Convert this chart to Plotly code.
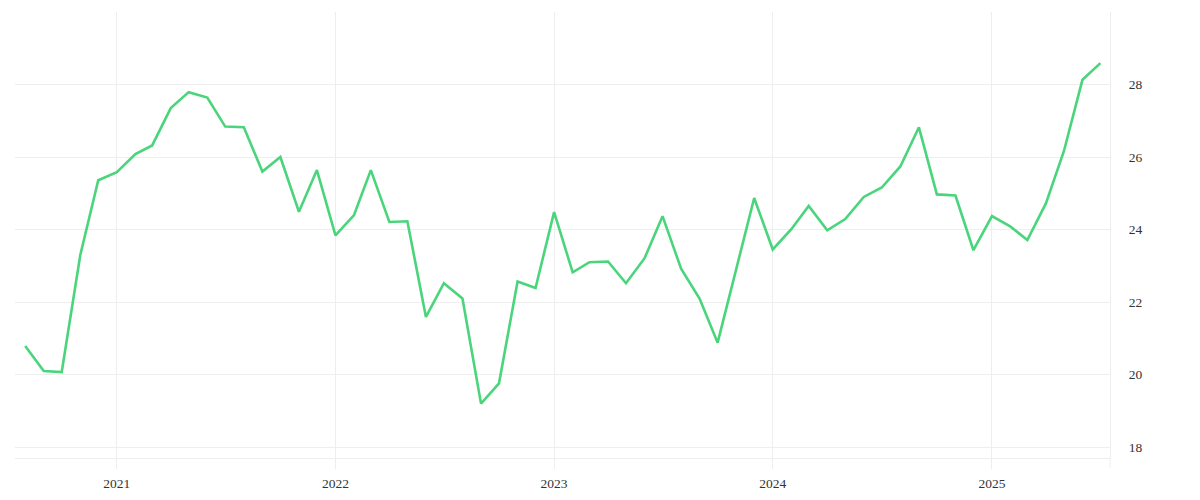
import plotly.graph_objects as go
import pandas as pd

dates = pd.date_range("2020-08-01", periods=60, freq="MS").strftime("%Y-%m-%d").tolist()
values = [
    20.79, 20.10, 20.07, 23.30, 25.36,
    25.58, 26.08, 26.32, 27.35, 27.79, 27.64, 26.84, 26.82, 25.60, 26.00, 24.49, 25.64,
    23.84, 24.40, 25.64, 24.21, 24.23, 21.59, 22.52, 22.10, 19.20, 19.76, 22.57, 22.39,
    24.48, 22.82, 23.10, 23.12, 22.52, 23.21, 24.37, 22.92, 22.09, 20.88, 22.89, 24.87,
    23.45, 24.01, 24.65, 23.98, 24.29, 24.90, 25.16, 25.74, 26.82, 24.97, 24.94, 23.43,
    24.37, 24.08, 23.71, 24.72, 26.16, 28.13, 28.59,
]
year_ticks = ["2021-01-01", "2022-01-01", "2023-01-01", "2024-01-01", "2025-01-01"]
year_labels = ["2021", "2022", "2023", "2024", "2025"]
y_ticks = [18, 20, 22, 24, 26, 28]

grid = "#eeeeee"
fig = go.Figure()
fig.add_trace(go.Scatter(
    x=dates, y=values, mode="lines",
    line=dict(color="#4ad57c", width=2.6),
    hoverinfo="x+y", showlegend=False,
))

fig.update_layout(
    width=1200, height=500,
    margin=dict(l=7, r=98, t=4, b=50),
    paper_bgcolor="white", plot_bgcolor="white",
    font=dict(family="Liberation Serif, serif", size=13.5, color="#333333"),
    xaxis=dict(
        type="date", range=["2020-07-15", "2025-07-17"],
        tickvals=year_ticks, ticktext=year_labels,
        showgrid=True, gridcolor=grid, gridwidth=1,
        showline=True, linecolor=grid, linewidth=1,
        ticks="outside", ticklen=10, tickcolor=grid, tickwidth=1,
        ticklabelstandoff=3,
        zeroline=False, fixedrange=True,
    ),
    yaxis=dict(
        side="right", range=[17.7, 30],
        tickvals=y_ticks,
        showgrid=True, gridcolor=grid, gridwidth=1,
        showline=True, linecolor=grid, linewidth=1,
        ticks="", ticklabelstandoff=15,
        zeroline=False, fixedrange=True,
    ),
    shapes=[dict(
        type="line", xref="paper", yref="paper",
        x0=1, x1=1, y0=-0.0224, y1=0,
        line=dict(color=grid, width=1),
    )],
)

fig.write_html("out.html")
